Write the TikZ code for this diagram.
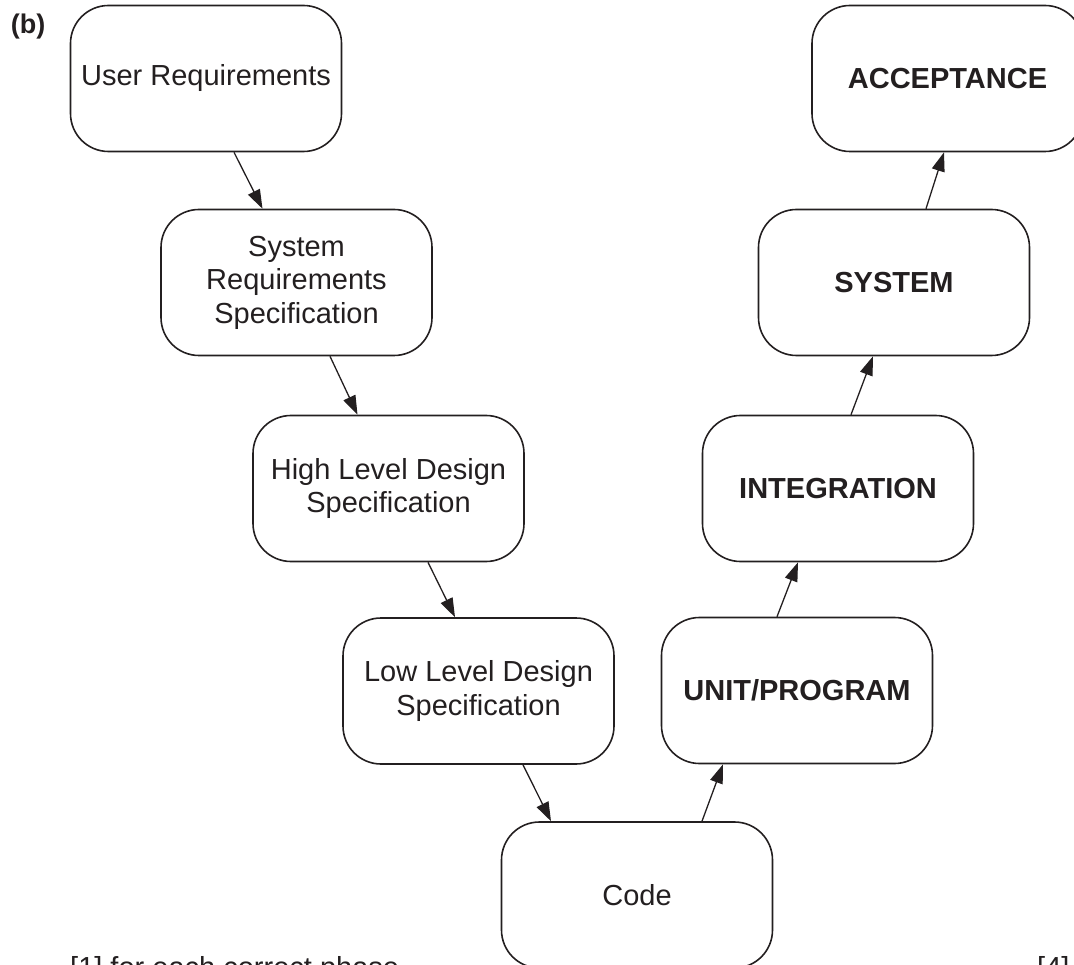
\documentclass[tikz,border=0pt]{standalone}
\usepackage{fontspec}
\setmainfont{Liberation Sans}
\usetikzlibrary{arrows.meta}
\usepackage{xcolor}
\definecolor{ink}{HTML}{231F20}

\begin{document}
\begin{tikzpicture}[x=1pt, y=-1pt, >={Triangle[length=19pt,width=13pt]},
  stagebox/.style={draw=ink, line width=1.6pt, rounded corners=38pt,
    minimum width=271pt, minimum height=146pt, align=center, text=ink,
    font=\fontsize{29}{33.5}\selectfont},
  link/.style={ink, line width=1.3pt, ->}]
\clip (0,0) rectangle (1074,965);
\node[font=\fontsize{27}{30}\selectfont\bfseries, text=ink] (part) at (28,27) {(b)};
% left leg of the V
\node[stagebox] (ureq) at (206,78.5) {User Requirements};
\node[stagebox] (sreq) at (296.5,282.5) {System\\Requirements\\Specification};
\node[stagebox] (hld)  at (388.5,488.5) {High Level Design\\Specification};
\node[stagebox] (lld)  at (478.5,691) {Low Level Design\\Specification};
\node[stagebox] (code) at (637,895) {Code};
% right leg of the V
\node[stagebox, font=\fontsize{29}{33.5}\selectfont\bfseries] (unit)   at (797,690.5) {UNIT/PROGRAM};
\node[stagebox, font=\fontsize{29}{33.5}\selectfont\bfseries] (integ)  at (838,488.5) {INTEGRATION};
\node[stagebox, font=\fontsize{29}{33.5}\selectfont\bfseries] (system) at (894,282.5) {SYSTEM};
\node[stagebox, font=\fontsize{29}{33.5}\selectfont\bfseries] (accept) at (947.5,78.5) {ACCEPTANCE};
\foreach \a/\b/\s/\e in {ureq/sreq/28/-34, sreq/hld/33.5/-31, hld/lld/39.5/-23.5, lld/code/44.5/-86} {
 \draw[link] ([xshift=\s pt]\a.south) -- ([xshift=\e pt]\b.north);
}
\foreach \a/\b/\s/\e in {code/unit/65/-74, unit/integ/-20/-40, integ/system/13/-21, system/accept/32/-3.5} {
 \draw[link] ([xshift=\s pt]\a.north) -- ([xshift=\e pt]\b.south);
}
% marks line, running off the bottom edge
\node[anchor=base west, inner sep=0, text=ink, font=\fontsize{29}{33.5}\selectfont] (mark) at (70,977) {[1] for each correct phase};
\node[anchor=base west, inner sep=0, text=ink, font=\fontsize{29}{33.5}\selectfont] (total) at (1037,977) {[4]};
\end{tikzpicture}
\end{document}
